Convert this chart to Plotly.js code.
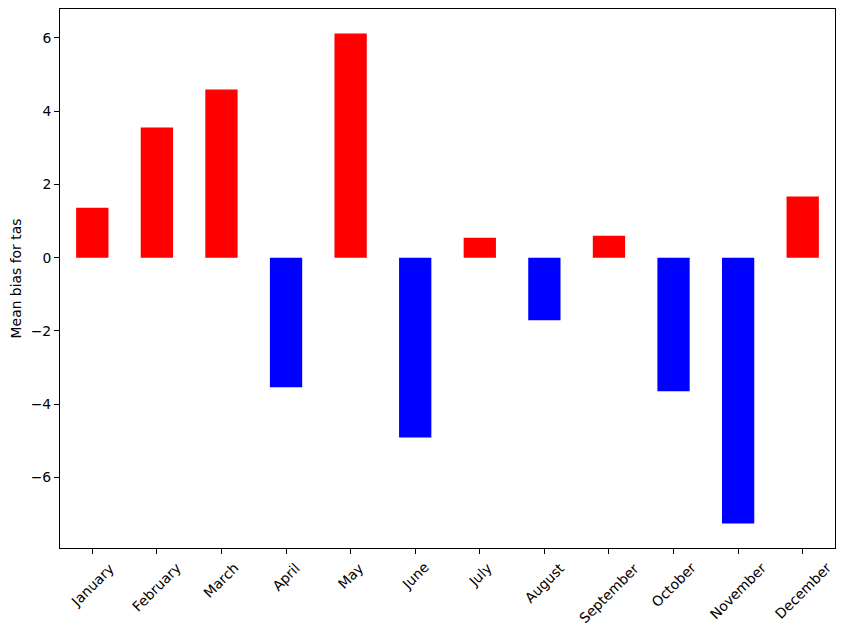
<!DOCTYPE html>
<html>
<head>
<meta charset="utf-8">
<script src="https://cdn.plot.ly/plotly-3.0.1.min.js"></script>
<style>html,body{margin:0;padding:0;background:#fff;}#chart{width:844px;height:632px;}</style>
</head>
<body>
<div id="chart"></div>
<script>
const months = ["January","February","March","April","May","June","July","August","September","October","November","December"];
const meanBias = [1.365, 3.55, 4.59, -3.54, 6.12, -4.91, 0.546, -1.71, 0.60, -3.65, -7.26, 1.666];
const yTicks = [-6, -4, -2, 0, 2, 4, 6];

const colors = meanBias.map(v => v >= 0 ? "#ff0000" : "#0000ff");
const idx = months.map((m, i) => i);

const trace = {
  type: "bar",
  x: idx,
  y: meanBias,
  width: 0.5,
  marker: {color: colors, line: {width: 0}},
  hoverinfo: "skip"
};

const yMin = Math.min(...meanBias), yMax = Math.max(...meanBias);
const pad = (yMax - yMin) * 0.05;

const annotations = months.map((m, i) => ({
  x: i, xref: "x", y: 0, yref: "paper",
  text: m, showarrow: false, textangle: -45,
  xanchor: "center", yanchor: "top", yshift: -9,
  font: {family: "DejaVu Sans", size: 13.9, color: "#000"}
}));

const layout = {
  width: 844, height: 632,
  margin: {l: 60, r: 9, t: 9, b: 84},
  paper_bgcolor: "#fff", plot_bgcolor: "#fff",
  showlegend: false,
  font: {family: "DejaVu Sans", size: 13.9, color: "#000"},
  xaxis: {
    range: [-0.5, months.length - 0.5],
    tickvals: idx, showticklabels: false,
    ticks: "outside", ticklen: 5, tickwidth: 1, tickcolor: "#000",
    showline: true, linecolor: "#000", linewidth: 1, mirror: true,
    showgrid: false, zeroline: false, fixedrange: true
  },
  yaxis: {
    range: [yMin - pad, yMax + pad],
    tickvals: yTicks,
    ticks: "outside", ticklen: 5, tickwidth: 1, tickcolor: "#000",
    tickfont: {family: "DejaVu Sans", size: 13.9, color: "#000"},
    showline: true, linecolor: "#000", linewidth: 1, mirror: true,
    showgrid: false, zeroline: false, fixedrange: true,
    title: {text: "Mean bias for tas", standoff: 5, font: {family: "DejaVu Sans", size: 13.9, color: "#000"}}
  },
  annotations: annotations
};

Plotly.newPlot("chart", [trace], layout, {displayModeBar: false, staticPlot: true});
</script>
</body>
</html>
